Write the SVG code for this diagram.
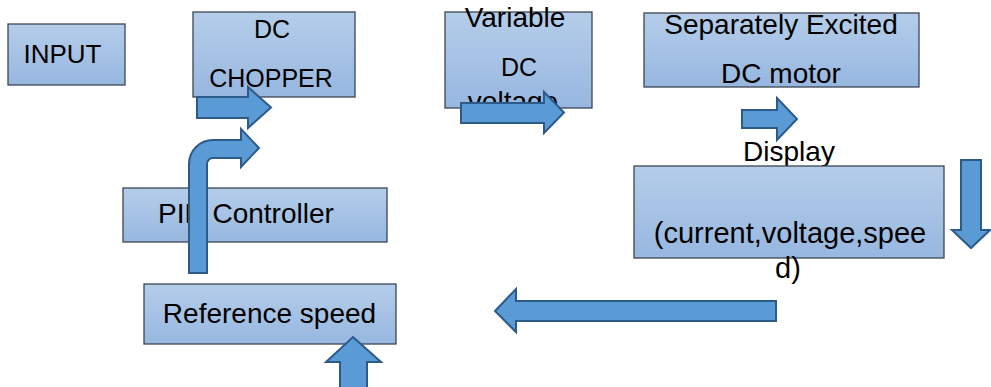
<svg xmlns="http://www.w3.org/2000/svg" width="991" height="387" viewBox="0 0 991 387">
<defs>
<linearGradient id="boxg" x1="0" y1="0" x2="0" y2="1">
<stop offset="0" stop-color="#b5cdea"/>
<stop offset="1" stop-color="#97b7e0"/>
</linearGradient>
</defs>
<style>
.box{fill:url(#boxg);stroke:#3c4552;stroke-width:1.3}
.t{font-family:"Liberation Sans",Arial,sans-serif;fill:#000;text-anchor:middle}
.arr{fill:#5b9bd5;stroke:#2c5b8a;stroke-width:2;stroke-linejoin:miter}
</style>
<rect width="991" height="387" fill="#fff"/>
<g id="input">
<rect class="box" x="8" y="24" width="117" height="61"/>
<text class="t" x="62.5" y="63" font-size="26">INPUT</text>
</g>
<g id="chopper">
<rect class="box" x="193" y="12" width="162" height="85"/>
<text class="t" x="272" y="38" font-size="25">DC</text>
<text class="t" x="271" y="87" font-size="25">CHOPPER</text>
</g>
<g id="variable">
<rect class="box" x="445" y="12" width="147" height="96"/>
<text class="t" x="515" y="27" font-size="28">Variable</text>
<text class="t" x="519" y="76" font-size="25">DC</text>
<text class="t" x="513" y="111" font-size="28">voltage</text>
</g>
<g id="motor">
<rect class="box" x="644" y="13" width="275" height="74"/>
<text class="t" x="781" y="34" font-size="28">Separately Excited</text>
<text class="t" x="781" y="83" font-size="28">DC motor</text>
</g>
<g id="display">
<text class="t" x="789" y="161" font-size="28">Display</text>
<rect class="box" x="634" y="166" width="310" height="92"/>
<text class="t" x="790" y="243" font-size="29">(current,voltage,spee</text>
<text class="t" x="788" y="278" font-size="29">d)</text>
</g>
<g id="pid">
<rect class="box" x="123" y="188" width="264" height="54"/>
<text class="t" x="158" y="223" font-size="28" style="text-anchor:start">PID Controller</text>
</g>
<g id="reference">
<rect class="box" x="144" y="284" width="252" height="60"/>
<text class="t" x="269.5" y="323" font-size="28">Reference speed</text>
</g>
<g id="connectors">
<path class="arr" d="M197,97 H248 V87 L271,107.5 L248,128 V118 H197 Z"/>
<path class="arr" d="M189,273 V164 A24,24 0 0 1 213,140 H241 V129 L259,148 L241,167 V158 H213 A6,6 0 0 0 207,164 V273 Z"/>
<path class="arr" d="M461,103 H544 V92 L564,112.5 L544,133 V123 H461 Z"/>
<path class="arr" d="M742,110 H777 V98 L797,119 L777,140 V128 H742 Z"/>
<path class="arr" d="M961,160 H981 V230 H990 L971,248 L952,230 H961 Z"/>
<path class="arr" d="M776,301 V321 H516 V332 L495,311 L516,289 V301 Z"/>
<path class="arr" d="M353,337 L381,362 H367 V392 H340 V362 H326 Z"/>
</g>
</svg>
